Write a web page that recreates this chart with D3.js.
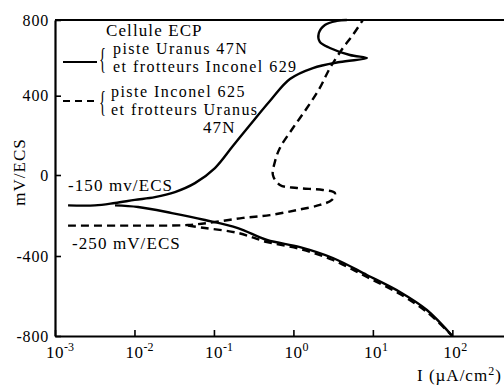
<!DOCTYPE html>
<html>
<head>
<meta charset="utf-8">
<script src="https://cdn.jsdelivr.net/npm/d3@7"></script>
<style>
  html, body { margin: 0; padding: 0; background: #fff; }
  svg { display: block; }
  text { font-family: "Liberation Serif", "Times New Roman", serif; fill: #000; }
</style>
</head>
<body>
<svg id="chart" width="504" height="386"></svg>
<script>
// Polarisation curves, potential (mV/ECS) against current density (µA/cm²)

// Solid: piste Uranus 47N / frotteurs Inconel 629
const solidAnodicI = [1.46e-3, 3.18e-3, 5.69e-3, 1.01e-2, 1.81e-2, 3.23e-2, 5.77e-2, 0.103, 0.173, 0.284, 0.506, 0.904, 1.76, 3.85, 8.41, 5.14, 2.88, 2.15, 2.09, 2.49, 3.52, 4.71];
const solidAnodicE = [-150, -150, -138, -123, -109, -84, -40, 35, 146, 252, 373, 488, 546, 578, 599, 615, 652, 684, 731, 774, 795, 800];
const solidCathodicI = [5.69e-3, 1.11e-2, 2.96e-2, 7.71e-2, 0.200, 0.465, 1.21, 3.14, 8.41, 21.9, 47.8, 100];
const solidCathodicE = [-150, -158, -188, -222, -262, -321, -356, -410, -495, -580, -670, -800];

// Dashed: piste Inconel 625 / frotteurs Uranus 47N
const dashedAnodicI = [1.46e-3, 8.77e-3, 4.71e-2, 0.103, 0.232, 0.506, 1.11, 2.15, 3.05, 3.33, 2.35, 1.11, 0.676, 0.552, 0.585, 0.676, 0.986, 1.48, 2.15, 2.88, 4.20, 5.60, 7.48];
const dashedAnodicE = [-250, -250, -247, -232, -212, -198, -173, -148, -123, -89, -74, -64, -49, 0, 66, 136, 237, 338, 441, 546, 652, 721, 800];
const dashedCathodicI = [4.71e-2, 7.71e-2, 0.200, 0.465, 1.21, 3.14, 8.41, 21.9, 47.8, 100];
const dashedCathodicE = [-250, -262, -286, -331, -365, -420, -505, -590, -680, -800];

// Axis ticks
const xTickExponents = [-3, -2, -1, 0, 1, 2];
const yTicks = [800, 400, 0, -400, -800];

// Texts
const titleText = "Cellule ECP";
const legendSolid = ["piste Uranus 47N", "et frotteurs Inconel 629"];
const legendDashed = ["piste Inconel 625", "et frotteurs Uranus", "47N"];
const ecorrSolidLabel = "-150 mv/ECS";
const ecorrDashedLabel = "-250 mV/ECS";
const yAxisLabel = "mV/ECS";

const svg = d3.select("#chart");

const x = d3.scaleLog().domain([1e-3, Math.pow(10, 2.65)]).range([55, 504]);
const y = d3.scaleLinear().domain([-800, -400, 0, 400, 800]).range([336, 256, 175, 95.7, 20]);

const zip = (I, E) => I.map((v, i) => [v, E[i]]);
const line = d3.line()
  .x(d => x(d[0]))
  .y(d => y(d[1]))
  .curve(d3.curveCatmullRom.alpha(0.5));

// Frame top line
svg.append("line")
  .attr("x1", x(1e-3)).attr("x2", 504)
  .attr("y1", y(800)).attr("y2", y(800))
  .attr("stroke", "#000").attr("stroke-width", 2.2);

// X axis (ticks pointing inward)
const xAxis = svg.append("g")
  .attr("transform", `translate(0,${y(-800)})`)
  .call(d3.axisBottom(x)
    .tickValues(xTickExponents.map(e => Math.pow(10, e)))
    .tickSizeInner(-6).tickSizeOuter(0)
    .tickFormat(""));
xAxis.select(".domain").attr("stroke-width", 2.2);
xAxis.selectAll(".tick line").attr("stroke-width", 1.6);

// Power-of-ten labels
xTickExponents.forEach(e => {
  const px = x(Math.pow(10, e));
  svg.append("text")
    .attr("x", px).attr("y", 358)
    .attr("text-anchor", "middle")
    .attr("font-size", 17)
    .attr("letter-spacing", 0.5)
    .text("10");
  svg.append("text")
    .attr("x", px + 9).attr("y", 351)
    .attr("font-size", 12)
    .text(String(e));
});

// Y axis (ticks pointing inward)
const yAxis = svg.append("g")
  .attr("transform", `translate(${x(1e-3)},0)`)
  .call(d3.axisLeft(y)
    .tickValues(yTicks)
    .tickSizeInner(-6).tickSizeOuter(0)
    .tickPadding(6)
    .tickFormat(d => String(d)));
yAxis.select(".domain").attr("stroke-width", 2.2);
yAxis.selectAll(".tick line").attr("stroke-width", 1.6);
yAxis.selectAll(".tick text")
  .attr("font-family", "Liberation Serif")
  .attr("font-size", 16)
  .attr("letter-spacing", 0.8);

// Axis titles
svg.append("text")
  .attr("transform", "translate(25,172) rotate(-90)")
  .attr("text-anchor", "middle")
  .attr("font-size", 17)
  .attr("letter-spacing", 1)
  .text(yAxisLabel);

const xt = svg.append("text")
  .attr("x", 417).attr("y", 381)
  .attr("font-size", 17)
  .attr("letter-spacing", 1);
xt.append("tspan").text("I (\u00B5A/cm");
xt.append("tspan").attr("dy", -6).attr("font-size", 12).text("2");
xt.append("tspan").attr("dy", 6).text(")");

// Curves
const curveStyle = sel => sel
  .attr("fill", "none")
  .attr("stroke", "#000")
  .attr("stroke-width", 2.4)
  .attr("stroke-linejoin", "round");

svg.append("path").datum(zip(solidAnodicI, solidAnodicE)).attr("d", line).call(curveStyle);
svg.append("path").datum(zip(solidCathodicI, solidCathodicE)).attr("d", line).call(curveStyle);
svg.append("path").datum(zip(dashedAnodicI, dashedAnodicE)).attr("d", line).call(curveStyle)
  .attr("stroke-dasharray", "8,5");
svg.append("path").datum(zip(dashedCathodicI, dashedCathodicE)).attr("d", line).call(curveStyle)
  .attr("stroke-dasharray", "8,5");

// Legend
const textAttrs = sel => sel.attr("font-size", 17).attr("letter-spacing", 1.1);
const legendAttrs = sel => sel.attr("font-size", 16).attr("letter-spacing", 1.45);

svg.append("text").attr("x", 106).attr("y", 36).call(textAttrs).text(titleText);

svg.append("line")
  .attr("x1", 63).attr("x2", 97).attr("y1", 62).attr("y2", 62)
  .attr("stroke", "#000").attr("stroke-width", 2.2);
svg.append("text")
  .attr("transform", "translate(99,68) scale(0.5,1)")
  .attr("font-size", 29)
  .text("{");
svg.append("text").attr("x", 113).attr("y", 54).call(legendAttrs).text(legendSolid[0]);
svg.append("text").attr("x", 113).attr("y", 72).call(legendAttrs).text(legendSolid[1]);

svg.append("line")
  .attr("x1", 63).attr("x2", 97).attr("y1", 101).attr("y2", 101)
  .attr("stroke", "#000").attr("stroke-width", 2.2)
  .attr("stroke-dasharray", "7,5");
svg.append("text")
  .attr("transform", "translate(99,111) scale(0.5,1)")
  .attr("font-size", 29)
  .text("{");
svg.append("text").attr("x", 111).attr("y", 97).call(legendAttrs).text(legendDashed[0]);
svg.append("text").attr("x", 111).attr("y", 115).call(legendAttrs).text(legendDashed[1]);
svg.append("text").attr("x", 203).attr("y", 133).call(textAttrs).text(legendDashed[2]);

// Corrosion potential annotations
svg.append("text").attr("x", 68).attr("y", 191).call(textAttrs).text(ecorrSolidLabel);
svg.append("text").attr("x", 72).attr("y", 249).call(textAttrs).text(ecorrDashedLabel);
</script>
</body>
</html>
